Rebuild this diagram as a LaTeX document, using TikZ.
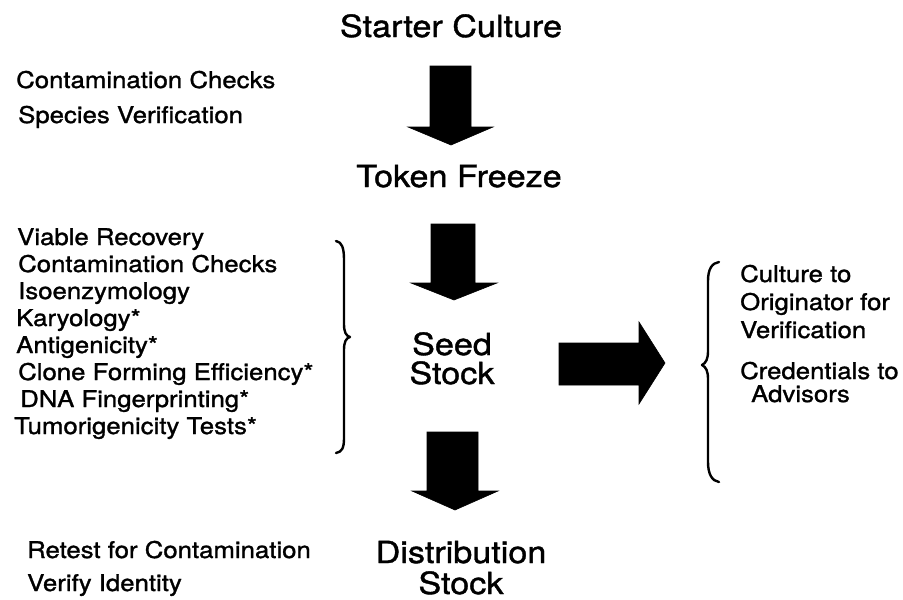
\documentclass[tikz,border=0pt]{standalone}
\usepackage{fontspec}
\setmainfont{TeX Gyre Heros}[FakeStretch=1.12, FakeBold=1.3]
\newcommand\txtbig{\fontsize{30.5}{34}\selectfont}
\newcommand\txtsmall{\fontsize{23}{27}\selectfont}
\tikzset{
  x=1pt, y=-1pt,
  big/.style={inner sep=0pt, anchor=base, font=\txtbig},
  lbl/.style={inner sep=0pt, anchor=base west, font=\txtsmall},
  blockarrow/.style={fill=black, draw=black, line width=0.6pt, line join=miter},
  bracket/.style={draw=black, line width=2.4pt, line cap=round, line join=round}
}
\begin{document}
\begin{tikzpicture}
\useasboundingbox (0,0) rectangle (903,600);

% main stages
\node[big] (starter) at (451,37) {Starter Culture};
\node[big] (token)   at (459,187) {Token Freeze};
\node[big] (seed)    at (452,355) {Seed};
\node[big] (seed2)   at (452,384) {Stock};
\node[big] (dist)    at (461,563) {Distribution};
\node[big] (dist2)   at (461,594) {Stock};

% block arrows between stages
\fill[blockarrow] (430,66) -- (471,66) -- (471,127) -- (493,127) -- (451,145)
  -- (408,127) -- (430,127) -- cycle;
\fill[blockarrow] (431,224) -- (475,224) -- (475,283) -- (497,283) -- (454,300)
  -- (411,283) -- (431,283) -- cycle;
\fill[blockarrow] (427,432) -- (478,432) -- (478,491) -- (498,491) -- (455,510)
  -- (412,491) -- (427,491) -- cycle;
\fill[blockarrow] (559,343) -- (639,343) -- (639,322) -- (665,363) -- (639,404)
  -- (639,385) -- (559,385) -- cycle;

% checks on the starter culture
\node[lbl] (c1) at (16,88)  {Contamination Checks};
\node[lbl] (c2) at (18,123) {Species Verification};

% tests on the seed stock
\node[lbl] (t1) at (17,245) {Viable Recovery};
\node[lbl] (t2) at (18,272) {Contamination Checks};
\node[lbl] (t3) at (18,299) {Isoenzymology};
\node[lbl] (t4) at (16,326) {Karyology*};
\node[lbl] (t5) at (16,353) {Antigenicity*};
\node[lbl] (t6) at (18,380) {Clone Forming Efficiency*};
\node[lbl] (t7) at (20,407) {DNA Fingerprinting*};
\node[lbl] (t8) at (14,434) {Tumorigenicity Tests*};

% right brace grouping the tests
\draw[bracket] (336,241) .. controls (342,242) and (344,248) .. (344,260)
  -- (344,324) .. controls (344,332) and (346,336) .. (350,337)
  .. controls (346,338) and (344,342) .. (344,350)
  -- (344,438) .. controls (344,448) and (342,452) .. (336,453);

% left brace grouping the follow-ups
\draw[bracket] (719,262) .. controls (712,263) and (708,269) .. (708,281)
  -- (708,351) .. controls (708,359) and (706,363) .. (702,365)
  .. controls (706,367) and (708,371) .. (708,379)
  -- (708,462) .. controls (708,474) and (712,481) .. (719,482);

% follow-up actions
\node[lbl] (r1) at (740,282) {Culture to};
\node[lbl] (r2) at (740,310) {Originator for};
\node[lbl] (r3) at (740,338) {Verification};
\node[lbl] (r4) at (740,379) {Credentials to};
\node[lbl] (r5) at (751,402) {Advisors};

% checks on the distribution stock
\node[lbl] (d1) at (27,558) {Retest for Contamination};
\node[lbl] (d2) at (27,591) {Verify Identity};
\end{tikzpicture}
\end{document}
